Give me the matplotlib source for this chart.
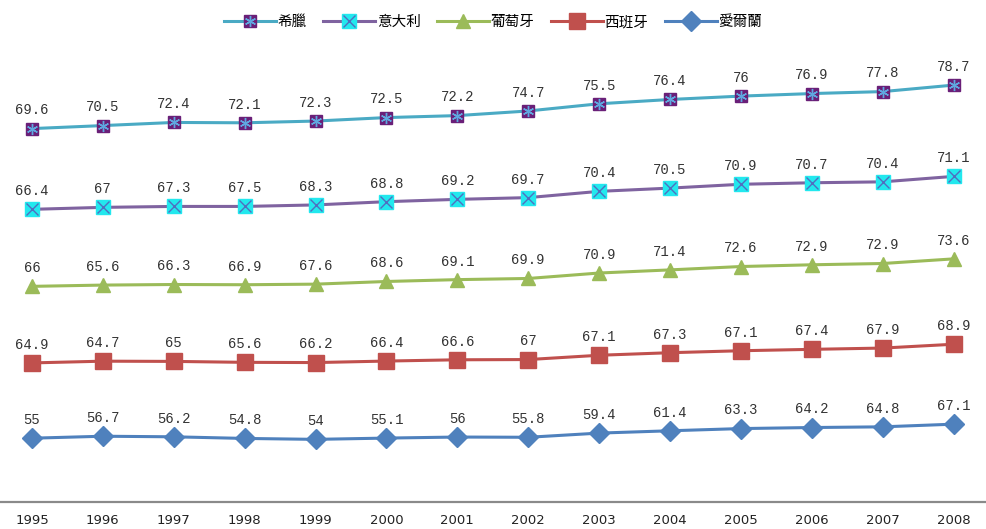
import matplotlib.pyplot as plt
from matplotlib.lines import Line2D
from matplotlib.legend_handler import HandlerTuple
import numpy as np

plt.rcParams['font.family'] = ['Noto Sans CJK TC', 'DejaVu Sans']

years = ['1995', '1996', '1997', '1998', '1999', '2000', '2001',
         '2002', '2003', '2004', '2005', '2006', '2007', '2008']

# series in stacking order, bottom first
ireland = [55, 56.7, 56.2, 54.8, 54, 55.1, 56, 55.8, 59.4, 61.4, 63.3, 64.2, 64.8, 67.1]
spain = [64.9, 64.7, 65, 65.6, 66.2, 66.4, 66.6, 67, 67.1, 67.3, 67.1, 67.4, 67.9, 68.9]
portugal = [66, 65.6, 66.3, 66.9, 67.6, 68.6, 69.1, 69.9, 70.9, 71.4, 72.6, 72.9, 72.9, 73.6]
italy = [66.4, 67, 67.3, 67.5, 68.3, 68.8, 69.2, 69.7, 70.4, 70.5, 70.9, 70.7, 70.4, 71.1]
greece = [69.6, 70.5, 72.4, 72.1, 72.3, 72.5, 72.2, 74.7, 75.5, 76.4, 76, 76.9, 77.8, 78.7]

names = ['愛爾蘭', '西班牙', '葡萄牙', '意大利', '希臘']
series = [ireland, spain, portugal, italy, greece]

fig = plt.figure(figsize=(9.86, 5.29), dpi=100)
ax = fig.add_axes([-3.5 / 986, 27 / 529, 992.6 / 986, 464 / 529])

x = np.arange(len(years))
cum = np.cumsum(np.array(series, dtype=float), axis=0)

styles = [
    dict(line='#4F81BD', marker='D', ms=10, mfc='#4F81BD', mec='#4F81BD', over=None),
    dict(line='#C0504D', marker='s', ms=11, mfc='#C0504D', mec='#C0504D', over=None),
    dict(line='#9BBB59', marker='^', ms=10, mfc='#9BBB59', mec='#9BBB59', over=None),
    dict(line='#7F63A0', marker='s', ms=10, mfc='#22E8EE', mec='#22E8EE',
         over=('x', '#4F6FC0', 8)),
    dict(line='#4AAAC4', marker='s', ms=9, mfc='#6A1F78', mec='#6A1F78',
         over=((6, 2, 0), '#5FA8E0', 8)),
]

handles = []
for name, vals, y, st in zip(names, series, cum, styles):
    ax.plot(x, y, color=st['line'], lw=2.2, zorder=2)
    ax.plot(x, y, ls='none', marker=st['marker'], ms=st['ms'],
            mfc=st['mfc'], mec=st['mec'], zorder=3)
    h = [Line2D([], [], color=st['line'], lw=2.2, marker=st['marker'], ms=st['ms'],
                mfc=st['mfc'], mec=st['mec'])]
    if st['over']:
        m, c, s = st['over']
        ax.plot(x, y, ls='none', marker=m, ms=s, mec=c, mew=1, zorder=4)
        h.append(Line2D([], [], ls='none', marker=m, ms=s, mec=c, mew=1))
    handles.append((tuple(h), name))
    for xi, yi, v in zip(x, y, vals):
        ax.annotate(f'{v:g}', (xi, yi), xytext=(0, 8), textcoords='offset points',
                    ha='center', va='bottom', fontsize=10, color='#333333',
                    family='Liberation Mono')

ax.set_xlim(-0.5, len(years) - 0.5)
ax.set_ylim(0, 400)
ax.set_xticks(x)
ax.set_xticklabels(years, fontsize=9.5, family='DejaVu Sans', color='#222222')
ax.tick_params(axis='x', length=0, pad=9)
ax.set_yticks([])
for s in ['top', 'left', 'right']:
    ax.spines[s].set_visible(False)
ax.spines['bottom'].set_color('#8A8A8A')
ax.spines['bottom'].set_linewidth(1.6)

handles = handles[::-1]
fig.legend([h for h, _ in handles], [n for _, n in handles],
           handler_map={tuple: HandlerTuple(ndivide=1)},
           loc='center', bbox_to_anchor=(0.5, 1 - 22 / 529), ncol=5, frameon=False,
           fontsize=10.5, handlelength=3.6, columnspacing=1.1, handletextpad=0.1)

fig.savefig('out.png', dpi=100)
